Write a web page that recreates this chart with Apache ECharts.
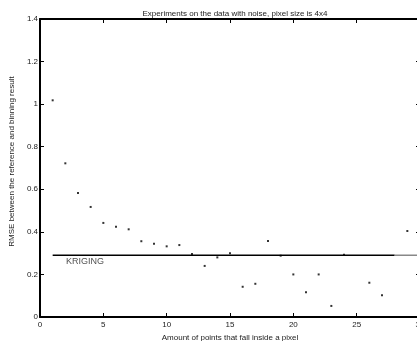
<!DOCTYPE html>
<html><head><meta charset="utf-8">
<script src="https://cdn.jsdelivr.net/npm/echarts@6/dist/echarts.min.js"></script>
<style>html,body{margin:0;padding:0;background:#fff}#c{width:417px;height:341px}</style>
</head><body><div id="c"></div>
<script>
const pointsX = [1,2,3,4,5,6,7,8,9,10,11,12,13,14,15,16,17,18,19,20,21,22,23,24,26,27,29];
const rmse = [1.018,0.722,0.582,0.517,0.442,0.424,0.412,0.356,0.344,0.332,0.338,0.296,0.240,0.280,0.300,0.142,0.156,0.357,0.288,0.200,0.116,0.200,0.052,0.293,0.161,0.102,0.404];
const krigingValue = 0.29;
const krigingRange = [1, 28];
const krigingTail = [28, 30];
const xTicks = [0,5,10,15,20,25,30];
const yTicks = [0,0.2,0.4,0.6,0.8,1,1.2,1.4];

const font = 'Liberation Sans, Arial, Helvetica, sans-serif';
const txt = '#222';
const chart = echarts.init(document.getElementById('c'));
const axisLine = {show:true, onZero:false, lineStyle:{color:'#000', width:2}};
const ticks = {show:true, inside:true, length:4, lineStyle:{color:'#000', width:1}};
chart.setOption({
  animation:false,
  title:{text:'Experiments on the data with noise, pixel size is 4x4', left:230, top:5, textAlign:'center',
    textStyle:{fontFamily:font, fontSize:8, fontWeight:'normal', color:txt}},
  grid:{left:40, top:19, width:380, height:298, outerBoundsMode:'none', containLabel:false},
  xAxis:[
    {type:'value', min:0, max:30, interval:5, position:'bottom', axisLine, axisTick:ticks,
     splitLine:{show:false}, axisLabel:{fontFamily:font, fontSize:8, color:txt, margin:4},
     name:'Amount of points that fall inside a pixel', nameLocation:'middle', nameGap:14,
     nameTextStyle:{fontFamily:font, fontSize:8, color:txt}},
    {type:'value', min:0, max:30, interval:5, position:'top', axisLine, axisTick:ticks,
     splitLine:{show:false}, axisLabel:{show:false}}
  ],
  yAxis:[
    {type:'value', min:0, max:1.4, interval:0.2, position:'left', axisLine, axisTick:ticks,
     splitLine:{show:false}, axisLabel:{fontFamily:font, fontSize:8, color:txt, margin:2},
     name:'RMSE between the reference and binning result', nameLocation:'middle', nameGap:19,
     nameTextStyle:{fontFamily:font, fontSize:8, color:txt, padding:[0,0,0,13]}},
    {type:'value', min:0, max:1.4, interval:0.2, position:'right', axisLine, axisTick:ticks,
     splitLine:{show:false}, axisLabel:{show:false}}
  ],
  series:[
    {type:'line', data:krigingRange.map(x=>[x,krigingValue]), symbol:'none',
     lineStyle:{color:'#000', width:1.5}, z:1},
    {type:'line', data:krigingTail.map(x=>[x,krigingValue]), symbol:'none',
     lineStyle:{color:'#888', width:1.5}, z:1},
    {type:'scatter', data:[[krigingRange[0]+1.05, krigingValue]], symbolSize:0,
     label:{show:true, formatter:'KRIGING', position:'bottom', distance:2, align:'left',
       fontFamily:font, fontSize:9, color:txt}},
    {type:'scatter', data:pointsX.map((x,i)=>[x,rmse[i]]), symbol:'rect', symbolSize:2,
     itemStyle:{color:'#000'}, z:3}
  ]
});
</script></body></html>
